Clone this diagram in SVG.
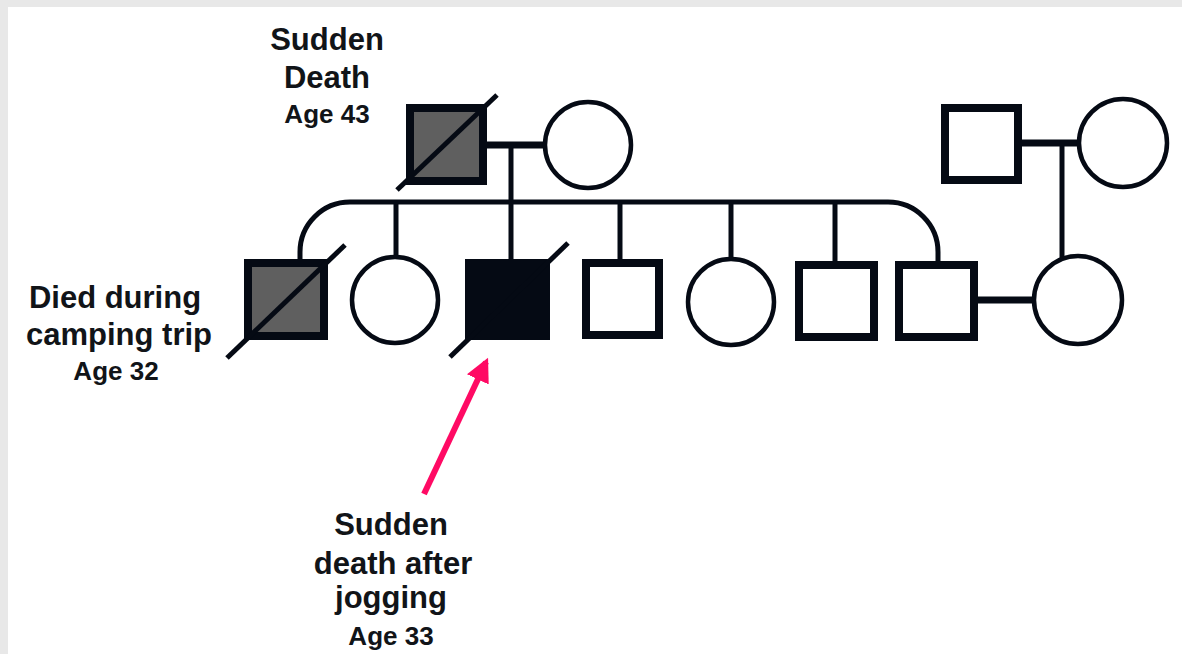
<svg xmlns="http://www.w3.org/2000/svg" width="1182" height="654" viewBox="0 0 1182 654">
  <style>
    .male { fill: #ffffff; stroke: #050a14; stroke-width: 8; }
    .male.grey { fill: #5f5f5f; }
    .male.black { fill: #050a14; }
    .female { fill: #ffffff; stroke: #050a14; stroke-width: 4.5; }
    .slash { stroke: #050a14; stroke-width: 5; fill: none; }
    .mate { stroke: #050a14; stroke-width: 7; fill: none; }
    .line { stroke: #050a14; stroke-width: 5; fill: none; }
    .label { font-family: "Liberation Sans", Arial, sans-serif; font-weight: bold; fill: #111418; text-anchor: middle; }
    .big { font-size: 31px; }
    .small { font-size: 26px; }
  </style>
  <defs>
    <marker id="pointer" viewBox="0 0 10 10" refX="8" refY="5" markerWidth="4" markerHeight="4" orient="auto" markerUnits="strokeWidth">
      <path d="M0,0 L10,5 L0,10 Z" fill="#ff0a64"/>
    </marker>
  </defs>

  <!-- page frame -->
  <rect x="0" y="0" width="1182" height="654" fill="#e8e8e8"/>
  <rect x="8" y="7" width="1174" height="647" fill="#ffffff"/>

  <!-- connectors -->
  <g id="connectors">
    <line class="mate" x1="487" y1="145" x2="546" y2="145"/>
    <line class="line" x1="511" y1="145" x2="511" y2="202"/>
    <path class="line" d="M300,262 L300,252 A50,50 0 0 1 350,202 L888,202 A50,50 0 0 1 938,252 L938,262"/>
    <line class="line" x1="396" y1="202" x2="396" y2="257"/>
    <line class="line" x1="511" y1="202" x2="511" y2="260"/>
    <line class="line" x1="620" y1="202" x2="620" y2="260"/>
    <line class="line" x1="731" y1="202" x2="731" y2="259"/>
    <line class="line" x1="835" y1="202" x2="835" y2="262"/>
    <line class="mate" x1="1022" y1="143" x2="1080" y2="143"/>
    <line class="line" x1="1062" y1="143" x2="1062" y2="258"/>
    <line class="mate" x1="978" y1="300" x2="1035" y2="300"/>
    <line x1="424" y1="494" x2="486" y2="362" stroke="#ff0a64" stroke-width="6" marker-end="url(#pointer)"/>
  </g>

  <!-- generation I -->
  <g id="grandfather">
    <rect class="male grey" x="410" y="108" width="73" height="73"/>
    <line class="slash" x1="397" y1="190" x2="497" y2="95"/>
  </g>
  <g id="grandmother">
    <circle class="female" cx="588" cy="145" r="43"/>
  </g>
  <g id="in-law-father">
    <rect class="male" x="945" y="108" width="73" height="72"/>
  </g>
  <g id="in-law-mother">
    <circle class="female" cx="1123" cy="143" r="44"/>
  </g>

  <!-- generation II -->
  <g id="son-1">
    <rect class="male grey" x="248" y="263" width="76" height="73"/>
    <line class="slash" x1="227" y1="358" x2="345" y2="245"/>
  </g>
  <g id="daughter-1">
    <circle class="female" cx="395" cy="300" r="43"/>
  </g>
  <g id="son-2">
    <rect class="male black" x="469" y="263" width="77" height="73"/>
    <line class="slash" x1="450" y1="357" x2="568" y2="243"/>
  </g>
  <g id="son-3">
    <rect class="male" x="586" y="263" width="73" height="72"/>
  </g>
  <g id="daughter-2">
    <circle class="female" cx="731" cy="302" r="43"/>
  </g>
  <g id="son-4">
    <rect class="male" x="799" y="265" width="75" height="72"/>
  </g>
  <g id="son-5">
    <rect class="male" x="899" y="265" width="75" height="72"/>
  </g>
  <g id="spouse">
    <circle class="female" cx="1078" cy="300" r="44"/>
  </g>

  <!-- annotations -->
  <g id="label-grandfather" class="label">
    <text class="big" x="327" y="50">Sudden</text>
    <text class="big" x="327" y="88">Death</text>
    <text class="small" x="327" y="123">Age 43</text>
  </g>
  <g id="label-son-1" class="label">
    <text class="big" x="115" y="308">Died during</text>
    <text class="big" x="119" y="345">camping trip</text>
    <text class="small" x="116" y="380">Age 32</text>
  </g>
  <g id="label-son-2" class="label">
    <text class="big" x="391" y="535">Sudden</text>
    <text class="big" x="393" y="574">death after</text>
    <text class="big" x="391" y="608">jogging</text>
    <text class="small" x="391" y="645">Age 33</text>
  </g>
</svg>
